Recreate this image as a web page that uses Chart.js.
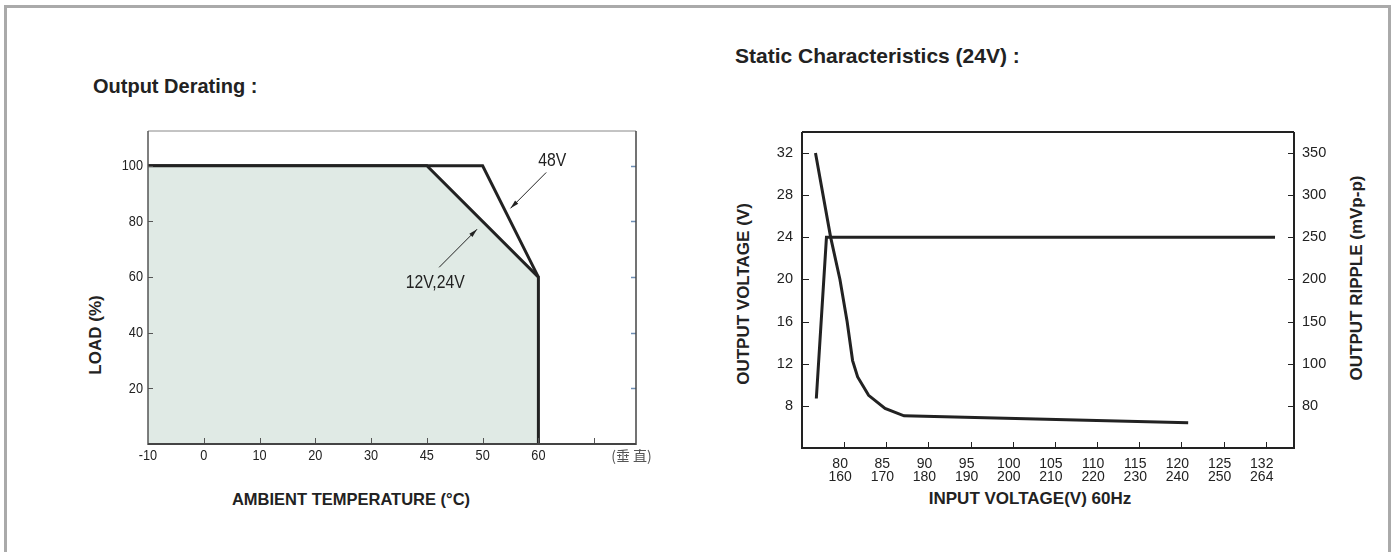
<!DOCTYPE html>
<html>
<head>
<meta charset="utf-8">
<title>Output Derating / Static Characteristics</title>
<script src="https://cdn.jsdelivr.net/npm/chart.js@4.4.0/dist/chart.umd.min.js"></script>
<style>
  html, body { margin: 0; padding: 0; background: #fff; }
  body { width: 1391px; height: 552px; position: relative; overflow: hidden;
         font-family: "Liberation Sans", Arial, sans-serif; color: #222; }
  #frame { position: absolute; left: 4px; top: 5px; width: 1381px; height: 600px;
           border: 3px solid #aaa; border-bottom: none; }
  .head { position: absolute; font-weight: bold; font-size: 20px; white-space: nowrap;
          transform: translateY(-50%); }
  .atitle { position: absolute; font-weight: bold; font-size: 17px; white-space: nowrap;
            transform: translate(-50%, -50%); }
  .rot { transform: translate(-50%, -50%) rotate(-90deg); }
  canvas { position: absolute; top: 0; }
</style>
</head>
<body>
<div id="frame"></div>

<div class="head" style="left:93px; top:86px">Output Derating :</div>
<div class="head" style="left:735px; top:56px; font-size:21px">Static Characteristics (24V) :</div>

<div class="atitle rot" style="left:96px; top:335px">LOAD (%)</div>
<div class="atitle" style="left:351px; top:499px; font-size:16.5px">AMBIENT TEMPERATURE (°C)</div>
<div class="atitle rot" style="left:744px; top:294px">OUTPUT VOLTAGE (V)</div>
<div class="atitle rot" style="left:1357px; top:278px">OUTPUT RIPPLE (mVp-p)</div>
<div class="atitle" style="left:1030px; top:499px">INPUT VOLTAGE(V) 60Hz</div>

<canvas id="derating" width="690" height="552" style="left:0"></canvas>
<canvas id="static" width="701" height="552" style="left:690px"></canvas>

<script>
// ---- Output derating (left) ----
const tempTicks = [-10, 0, 10, 20, 30, 45, 50, 60];   // evenly spaced on the axis
const loadTicks = [20, 40, 60, 80, 100];
const curve12Temp = [-10, 45, 60, 60];
const curve12Load = [100, 100, 60, 0];
const curve48Temp = [-10, 50, 60];
const curve48Load = [100, 100, 60];

// ---- Static characteristics (right) ----
const vinLow = ['80', '85', '90', '95', '100', '105', '110', '115', '120', '125', '132'];
const vinHigh = ['160', '170', '180', '190', '200', '210', '220', '230', '240', '250', '264'];
const voutTicks = [8, 12, 16, 20, 24, 28, 32];
const rippleTicks = ['80', '100', '150', '200', '250', '300', '350'];  // same rows as voutTicks
// x is the tick slot (1 = 80/160 ... 11 = 132/264)
const voutPos = [0.34, 0.58, 11.22];
const voutVal = [8.7, 24, 24];
const ripplePos = [0.32, 0.68, 0.90, 1.07, 1.20, 1.32, 1.58, 1.97, 2.42, 9.16];
const rippleVal = [32, 24, 20, 16, 12.3, 10.75, 9.0, 7.75, 7.05, 6.4];

const SANS = '"Liberation Sans", Arial, sans-serif';

// tick marks drawn on the inside of the frame, plus the frame itself
const innerTicks = {
  id: 'innerTicks',
  afterDatasetsDraw(chart, args, opts) {
    const { ctx, chartArea: a } = chart;
    ctx.save();
    (opts.marks || []).forEach(m => {
      const sc = chart.scales[m.scale];
      ctx.strokeStyle = m.color;
      ctx.lineWidth = m.width || 1;
      m.values.forEach(v => {
        const p = Math.round(sc.getPixelForValue(v)) + 0.5;
        ctx.beginPath();
        if (m.side === 'bottom') { ctx.moveTo(p, a.bottom); ctx.lineTo(p, a.bottom - m.len); }
        if (m.side === 'left') { ctx.moveTo(a.left, p); ctx.lineTo(a.left + m.len, p); }
        if (m.side === 'right') { ctx.moveTo(a.right, p); ctx.lineTo(a.right - m.len, p); }
        ctx.stroke();
      });
    });
    const f = opts.frame;
    if (f) {
      const side = (c, w, x1, y1, x2, y2) => {
        ctx.strokeStyle = c; ctx.lineWidth = w;
        ctx.beginPath(); ctx.moveTo(x1, y1); ctx.lineTo(x2, y2); ctx.stroke();
      };
      side(f.top[0], f.top[1], a.left, a.top, a.right, a.top);
      side(f.right[0], f.right[1], a.right, a.top, a.right, a.bottom + f.bottom[1] / 2);
      side(f.left[0], f.left[1], a.left, a.top, a.left, a.bottom + f.bottom[1] / 2);
      side(f.bottom[0], f.bottom[1], a.left, a.bottom, a.right, a.bottom);
    }
    ctx.restore();
  }
};

// narrow (condensed) tick labels, positioned by the chart's scales
const squeezedTicks = {
  id: 'squeezedTicks',
  afterDraw(chart, args, opts) {
    const { ctx, chartArea: a } = chart;
    (opts.axes || []).forEach(ax => {
      const sc = chart.scales[ax.scale];
      sc.ticks.forEach(t => {
        const text = ax.label(t.value);
        if (text === undefined || text === '') return;
        const st = ax.style ? ax.style(t.value) : {};
        ctx.save();
        ctx.font = st.font || ax.font;
        ctx.fillStyle = st.color || ax.color;
        ctx.textBaseline = 'middle';
        let x, y;
        if (ax.side === 'bottom') {
          x = sc.getPixelForValue(t.value); y = a.bottom + ax.gap; ctx.textAlign = 'center';
        } else {
          x = a.left - ax.gap; y = sc.getPixelForValue(t.value); ctx.textAlign = 'right';
        }
        ctx.translate(x, y);
        ctx.scale(st.squeeze || ax.squeeze, 1);
        ctx.fillText(String(text), 0, 0);
        ctx.restore();
      });
    });
  }
};

// labels with arrows, placed in data units
const notes = {
  id: 'notes',
  afterDatasetsDraw(chart, args, opts) {
    const { ctx, scales: { x, y } } = chart;
    (opts.items || []).forEach(n => {
      ctx.save();
      ctx.font = opts.font;
      ctx.fillStyle = '#222';
      ctx.textAlign = 'center';
      ctx.textBaseline = 'middle';
      ctx.translate(x.getPixelForValue(n.at[0]), y.getPixelForValue(n.at[1]));
      ctx.scale(opts.squeeze, 1);
      ctx.fillText(n.text, 0, 0);
      ctx.restore();
      ctx.save();
      const x1 = x.getPixelForValue(n.from[0]), y1 = y.getPixelForValue(n.from[1]);
      const x2 = x.getPixelForValue(n.to[0]), y2 = y.getPixelForValue(n.to[1]);
      ctx.strokeStyle = '#222';
      ctx.lineWidth = 1;
      ctx.beginPath(); ctx.moveTo(x1, y1); ctx.lineTo(x2, y2); ctx.stroke();
      const ang = Math.atan2(y2 - y1, x2 - x1);
      ctx.beginPath();
      ctx.moveTo(x2, y2);
      ctx.lineTo(x2 - 9 * Math.cos(ang - 0.25), y2 - 9 * Math.sin(ang - 0.25));
      ctx.lineTo(x2 - 9 * Math.cos(ang + 0.25), y2 - 9 * Math.sin(ang + 0.25));
      ctx.closePath();
      ctx.fillStyle = '#222';
      ctx.fill();
      ctx.restore();
    });
  }
};

const slot = t => tempTicks.indexOf(t);

new Chart(document.getElementById('derating'), {
  type: 'line',
  data: {
    datasets: [
      {
        data: curve12Temp.map((t, i) => ({ x: slot(t), y: curve12Load[i] })),
        borderColor: '#222', borderWidth: 3, borderJoinStyle: 'miter',
        fill: 'origin', backgroundColor: '#e0eae5', pointRadius: 0
      },
      {
        data: curve48Temp.map((t, i) => ({ x: slot(t), y: curve48Load[i] })),
        borderColor: '#222', borderWidth: 3, borderJoinStyle: 'miter',
        fill: false, pointRadius: 0
      }
    ]
  },
  plugins: [innerTicks, notes, squeezedTicks],
  options: {
    responsive: false, animation: false,
    layout: { padding: { top: 131, right: 54, left: 0, bottom: 0 } },
    plugins: {
      legend: { display: false }, tooltip: { enabled: false },
      innerTicks: {
        marks: [
          { scale: 'y', side: 'left', values: loadTicks, len: 5, color: '#555' },
          { scale: 'y', side: 'right', values: loadTicks, len: 5, color: '#6f8fb4', width: 1.5 },
          { scale: 'x', side: 'bottom', values: [1, 2, 3, 4, 5, 6, 7, 8], len: 6, color: '#555' }
        ],
        frame: { top: ['#888', 1], left: ['#555', 1.5], right: ['#444', 1.5], bottom: ['#444', 2] }
      },
      notes: {
        font: '19px ' + SANS, squeeze: 0.83,
        items: [
          { text: '48V', at: [7.25, 101.7], from: [7.14, 97.6], to: [6.5, 84.7] },
          { text: '12V,24V', at: [5.15, 58], from: [5.22, 63.5], to: [5.9, 77.2] }
        ]
      },
      squeezedTicks: {
        axes: [
          {
            scale: 'x', side: 'bottom', gap: 12, font: '15.5px ' + SANS, color: '#222', squeeze: 0.82,
            label: v => v > 8 ? '(垂 直)' : tempTicks[v],
            style: v => v > 8
              ? { font: '14px "Noto Sans CJK TC", "Noto Sans CJK SC", sans-serif', color: '#555', squeeze: 1 }
              : {}
          },
          { scale: 'y', side: 'left', gap: 5, font: '15.5px ' + SANS, color: '#222', squeeze: 0.82,
            label: v => v }
        ]
      }
    },
    scales: {
      x: {
        type: 'linear', min: 0, max: 8.75,
        grid: { display: false, drawTicks: false }, border: { display: false },
        afterBuildTicks: s => { s.ticks = [0, 1, 2, 3, 4, 5, 6, 7, 8.67].map(v => ({ value: v })); },
        afterFit: s => { s.height = 108; },
        ticks: { display: false }
      },
      y: {
        type: 'linear', min: 0, max: 112.5,
        grid: { display: false, drawTicks: false }, border: { display: false },
        afterBuildTicks: s => { s.ticks = loadTicks.map(v => ({ value: v })); },
        afterFit: s => { s.width = 148; },
        ticks: { display: false }
      }
    }
  }
});

new Chart(document.getElementById('static'), {
  type: 'line',
  data: {
    datasets: [
      {
        data: voutPos.map((p, i) => ({ x: p, y: voutVal[i] })),
        borderColor: '#222', borderWidth: 3, pointRadius: 0, yAxisID: 'y'
      },
      {
        data: ripplePos.map((p, i) => ({ x: p, y: rippleVal[i] })),
        borderColor: '#222', borderWidth: 3, pointRadius: 0, yAxisID: 'y2'
      }
    ]
  },
  plugins: [innerTicks],
  options: {
    responsive: false, animation: false,
    layout: { padding: { top: 132, right: 0, left: 0, bottom: 0 } },
    plugins: {
      legend: { display: false }, tooltip: { enabled: false },
      innerTicks: {
        marks: [
          { scale: 'y', side: 'left', values: voutTicks, len: 7, color: '#222' },
          { scale: 'y', side: 'right', values: voutTicks, len: 6, color: '#222' },
          { scale: 'x', side: 'bottom', values: [1, 2, 3, 4, 5, 6, 7, 8, 9, 10, 11], len: 6, color: '#222' }
        ],
        frame: { top: ['#222', 2], left: ['#222', 2], right: ['#222', 2], bottom: ['#222', 2] }
      }
    },
    scales: {
      x: {
        type: 'linear', min: 0, max: 11.67,
        grid: { display: false, drawTicks: false }, border: { display: false },
        afterBuildTicks: s => { s.ticks = vinLow.map((v, i) => ({ value: i + 1 })); },
        afterFit: s => { s.height = 104; },
        ticks: {
          padding: 10, autoSkip: false, maxRotation: 0, labelOffset: -4,
          callback: v => [vinLow[v - 1], vinHigh[v - 1]],
          color: '#222', font: { family: SANS, size: 14, lineHeight: 0.9 }
        }
      },
      y: {
        type: 'linear', position: 'left', min: 4, max: 34,
        grid: { display: false, drawTicks: false }, border: { display: false },
        afterBuildTicks: s => { s.ticks = voutTicks.map(v => ({ value: v })); },
        afterFit: s => { s.width = 112; },
        ticks: { padding: 9, color: '#222', font: { family: SANS, size: 14.5 } }
      },
      y2: {
        type: 'linear', position: 'right', min: 4, max: 34,
        grid: { display: false, drawTicks: false }, border: { display: false },
        afterBuildTicks: s => { s.ticks = voutTicks.map(v => ({ value: v })); },
        afterFit: s => { s.width = 97; },
        ticks: {
          padding: 8, color: '#222', font: { family: SANS, size: 14.5 },
          callback: v => rippleTicks[voutTicks.indexOf(v)]
        }
      }
    }
  }
});
</script>
</body>
</html>
